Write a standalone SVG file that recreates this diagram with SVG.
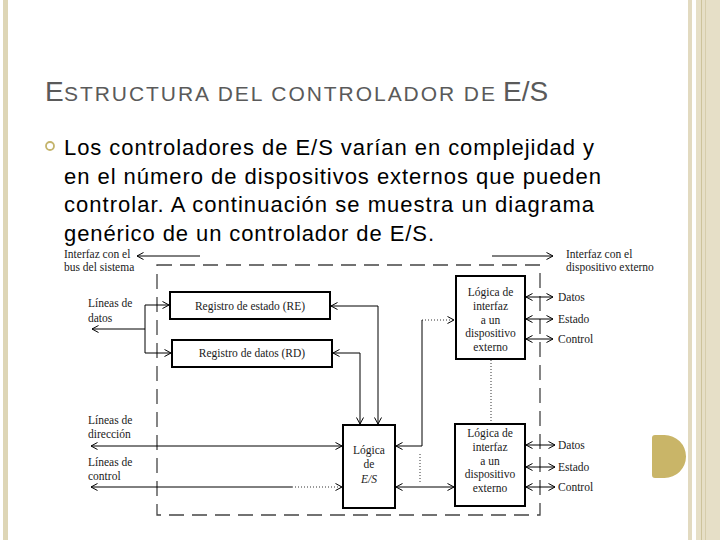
<svg xmlns="http://www.w3.org/2000/svg" width="720" height="540" viewBox="0 0 720 540">
<style>
.title{font-family:"Liberation Sans",Arial,sans-serif;fill:#5a5a5a}
.body{font-family:"Liberation Sans",Arial,sans-serif;font-size:22px;fill:#000}
.lbl{font-family:"Liberation Serif","Times New Roman",serif;font-size:11.5px;fill:#1a1a1a}
.box{fill:#fff;stroke:#000;stroke-width:2}
.ln{fill:none;stroke:#000;stroke-width:1}
.dot{fill:none;stroke:#333;stroke-width:1;stroke-dasharray:1 2}
.mid{text-anchor:middle}
</style>
<defs>
<marker id="ah" viewBox="0 0 8 8" refX="7.5" refY="4" markerWidth="8" markerHeight="8" markerUnits="userSpaceOnUse" orient="auto-start-reverse">
<path d="M1,0.5 L7.5,4 L1,7.5" fill="none" stroke="#000" stroke-width="1"/>
</marker>
</defs>
<rect width="720" height="540" fill="#fff"/>
<!-- slide decorations -->
<rect x="3" y="0" width="5" height="540" fill="#ded6b6"/>
<rect x="688" y="0" width="4" height="540" fill="#e2dac0"/>
<rect x="696" y="0" width="24" height="540" fill="#e6dfc7"/>
<rect x="701" y="0" width="1" height="540" fill="#cdc39b"/>
<rect x="705" y="0" width="1" height="540" fill="#d6cdab"/>
<path d="M655,435 H664.5 A21.5,21.5 0 0 1 664.5,478 H655 A3,3 0 0 1 652,475 V438 A3,3 0 0 1 655,435 Z" fill="#c9b568"/>
<!-- title -->
<text class="title" x="45" y="101" font-size="28">E</text>
<text class="title" x="64" y="101" font-size="21" textLength="431" lengthAdjust="spacing">STRUCTURA DEL CONTROLADOR DE</text>
<text class="title" x="503" y="101" font-size="28">E/S</text>
<!-- bullet text -->
<circle cx="50" cy="146" r="4" fill="none" stroke="#c4b46c" stroke-width="1.8"/>
<text class="body" x="64" y="155" textLength="530" lengthAdjust="spacing">Los controladores de E/S varían en complejidad y</text>
<text class="body" x="64" y="184" textLength="537" lengthAdjust="spacing">en el número de dispositivos externos que pueden</text>
<text class="body" x="64" y="212" textLength="530" lengthAdjust="spacing">controlar. A continuación se muestra un diagrama</text>
<text class="body" x="64" y="241" textLength="370" lengthAdjust="spacing">genérico de un controlador de E/S.</text>
<!-- controller boundary -->
<rect x="157" y="265" width="383" height="250" fill="none" stroke="#444" stroke-width="1.3" stroke-dasharray="15 8"/>
<!-- free labels -->
<g id="labels">
<text class="lbl" x="64" y="258">Interfaz con el</text>
<text class="lbl" x="64" y="271">bus del sistema</text>
<text class="lbl" x="566" y="258">Interfaz con el</text>
<text class="lbl" x="566" y="271">dispositivo externo</text>
<text class="lbl" x="88" y="307">Líneas de</text>
<text class="lbl" x="88" y="322">datos</text>
<text class="lbl" x="88" y="424">Líneas de</text>
<text class="lbl" x="88" y="438">dirección</text>
<text class="lbl" x="88" y="466">Líneas de</text>
<text class="lbl" x="88" y="480">control</text>
<text class="lbl" x="558" y="301">Datos</text>
<text class="lbl" x="558" y="323">Estado</text>
<text class="lbl" x="558" y="343">Control</text>
<text class="lbl" x="558" y="449">Datos</text>
<text class="lbl" x="558" y="471">Estado</text>
<text class="lbl" x="558" y="491">Control</text>
</g>
<!-- nodes -->
<g id="re">
<rect class="box" x="170" y="292" width="160" height="27"/>
<text class="lbl mid" x="250" y="310">Registro de estado (RE)</text>
</g>
<g id="rd">
<rect class="box" x="172" y="340" width="160" height="27"/>
<text class="lbl mid" x="252" y="357">Registro de datos (RD)</text>
</g>
<g id="logica">
<rect class="box" x="343" y="425" width="52" height="83"/>
<text class="lbl mid" x="369" y="454">Lógica</text>
<text class="lbl mid" x="369" y="468">de</text>
<text class="lbl mid" x="369" y="483" font-style="italic">E/S</text>
</g>
<g id="interfaz1">
<rect class="box" x="456" y="276" width="69" height="83"/>
<text class="lbl mid" x="490.5" y="296">Lógica de</text>
<text class="lbl mid" x="490.5" y="310">interfaz</text>
<text class="lbl mid" x="490.5" y="324">a un</text>
<text class="lbl mid" x="490.5" y="337">dispositivo</text>
<text class="lbl mid" x="490.5" y="351">externo</text>
</g>
<g id="interfaz2">
<rect class="box" x="455" y="424" width="70" height="82"/>
<text class="lbl mid" x="490" y="437">Lógica de</text>
<text class="lbl mid" x="490" y="451">interfaz</text>
<text class="lbl mid" x="490" y="465">a un</text>
<text class="lbl mid" x="490" y="478">dispositivo</text>
<text class="lbl mid" x="490" y="492">externo</text>
</g>
<!-- connectors -->
<g id="connectors">
<path class="ln" d="M200,256 H137" marker-end="url(#ah)"/>
<path class="ln" d="M492,256 H553" marker-end="url(#ah)"/>
<path class="ln" d="M145,329 H92" marker-end="url(#ah)"/>
<path class="ln" d="M145,305 V353"/>
<path class="ln" d="M145,305 H169" marker-end="url(#ah)"/>
<path class="ln" d="M145,353 H171" marker-end="url(#ah)"/>
<path class="ln" d="M331,306 H378 V424" marker-start="url(#ah)" marker-end="url(#ah)"/>
<path class="ln" d="M333,353 H360 V424" marker-start="url(#ah)" marker-end="url(#ah)"/>
<path class="dot" d="M422,320 H454" marker-end="url(#ah)"/>
<path class="ln" d="M422,320 V446 H396" marker-end="url(#ah)"/>
<path class="dot" d="M491,360 V423"/>
<path class="dot" d="M420,454 V482"/>
<path class="ln" d="M396,487 H454" marker-start="url(#ah)" marker-end="url(#ah)"/>
<path class="ln" d="M91,446 H342" stroke-width="1.8" marker-start="url(#ah)" marker-end="url(#ah)"/>
<path class="ln" d="M292,487 H91" marker-end="url(#ah)"/>
<path class="dot" d="M292,487 H342" marker-end="url(#ah)"/>
<path class="ln" d="M526,297 H553" marker-start="url(#ah)" marker-end="url(#ah)"/>
<path class="ln" d="M526,319 H553" stroke="#666" marker-start="url(#ah)" marker-end="url(#ah)"/>
<path class="ln" d="M526,339 H553" marker-start="url(#ah)" marker-end="url(#ah)"/>
<path class="ln" d="M526,445 H555" stroke="#666" marker-start="url(#ah)" marker-end="url(#ah)"/>
<path class="ln" d="M526,467 H555" stroke-width="1.6" marker-start="url(#ah)" marker-end="url(#ah)"/>
<path class="ln" d="M526,487 H555" stroke="#e4e4e4" marker-start="url(#ah)" marker-end="url(#ah)"/>
</g>
</svg>
